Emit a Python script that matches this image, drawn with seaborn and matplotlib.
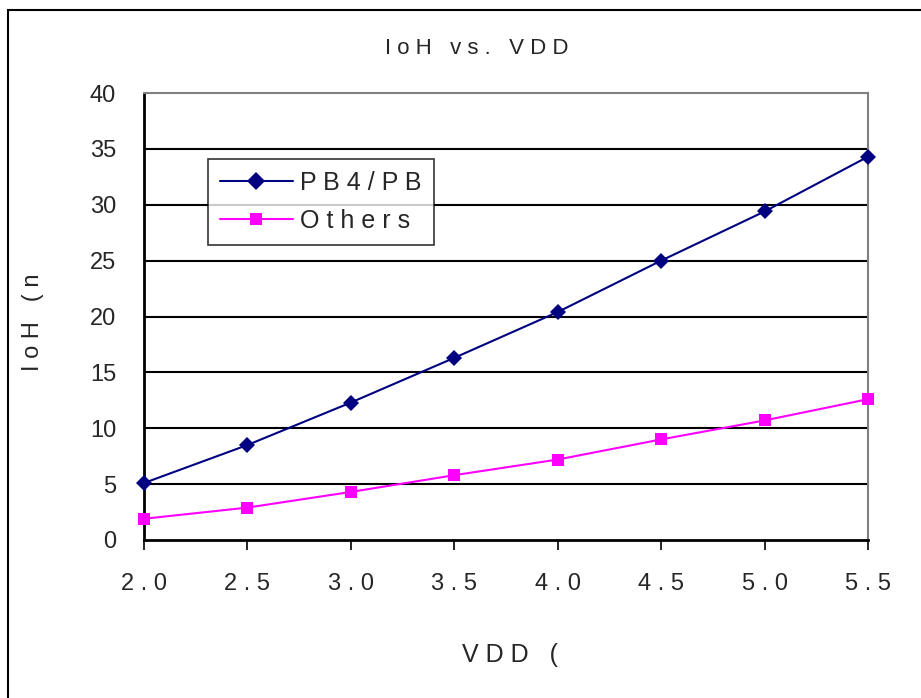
import numpy as np
import pandas as pd
import matplotlib
matplotlib.use("Agg")
import matplotlib.pyplot as plt
import seaborn as sns
from matplotlib.patches import Rectangle

vdd = [2.0, 2.5, 3.0, 3.5, 4.0, 4.5, 5.0, 5.5]
ioh_pb4 = [5.1, 8.5, 12.3, 16.3, 20.4, 25.0, 29.4, 34.3]
ioh_others = [1.9, 2.9, 4.3, 5.8, 7.2, 9.0, 10.7, 12.6]
series_names = ["PB4/PB", "Others"]
xtick_labels = ["2 . 0", "2 . 5", "3 . 0", "3 . 5", "4 . 0", "4 . 5", "5 . 0", "5 . 5"]

df = pd.DataFrame({
    "VDD": vdd * 2,
    "IoH": ioh_pb4 + ioh_others,
    "series": [series_names[0]] * len(vdd) + [series_names[1]] * len(vdd),
})

sns.set_style("white")
plt.rcParams["font.family"] = ["Liberation Sans", "DejaVu Sans"]

fig = plt.figure(figsize=(9.21, 6.98), dpi=100)
ax = fig.add_axes([144 / 921, 1 - 540 / 698, 724 / 921, 447 / 698])

# black horizontal grid lines every 5
for yv in range(5, 40, 5):
    ax.axhline(yv, color="black", lw=1.5, zorder=0)

sns.lineplot(data=df, x="VDD", y="IoH", hue="series", style="series",
             palette={"PB4/PB": "#000080", "Others": "#FF00FF"},
             markers={"PB4/PB": "D", "Others": "s"}, dashes=False,
             markersize=8, markeredgewidth=0, linewidth=1.5, ax=ax, zorder=3,
             clip_on=False)

ax.set_xlim(2.0, 5.5)
ax.set_ylim(0, 40)
ax.set_xticks(vdd)
ax.set_xticklabels(xtick_labels, fontsize=17)
ax.set_yticks(range(0, 41, 5))
ax.tick_params(axis="y", labelsize=17, length=0, pad=20)
ax.tick_params(axis="x", direction="out", length=7, width=1.2, color="black", pad=17, bottom=True)

for side in ["left", "bottom"]:
    ax.spines[side].set_color("black")
    ax.spines[side].set_linewidth(2)
for side in ["top", "right"]:
    ax.spines[side].set_color("#808080")
    ax.spines[side].set_linewidth(1.5)

ax.set_xlabel("")
ax.set_ylabel("")
fig.text(510 / 921, 1 - 655 / 698, "V D D   (", ha="center", va="center", fontsize=18)
fig.text(33 / 921, 1 - 322 / 698, "I o H   ( n", ha="center", va="center", fontsize=17, rotation=90)
fig.text(477 / 921, 1 - 49 / 698, "I o H   v s .   V D D", ha="center", va="center", fontsize=16)

leg = ax.legend(loc="upper left", bbox_to_anchor=(0.088, 0.853), borderaxespad=0,
                fontsize=18, frameon=True, fancybox=False, edgecolor="black",
                handlelength=2.9, handletextpad=0.3, borderpad=0.5, labelspacing=0.55,
                markerscale=1.1)
leg.get_frame().set_linewidth(1.2)
for t in leg.get_texts():
    t.set_text(" ".join(t.get_text()))

fig.patches.append(Rectangle((8 / 921, -0.1), 1.2, 1.1 - 10 / 698, fill=False,
                             edgecolor="black", lw=1.5, transform=fig.transFigure))

fig.savefig("out.png", dpi=100)
